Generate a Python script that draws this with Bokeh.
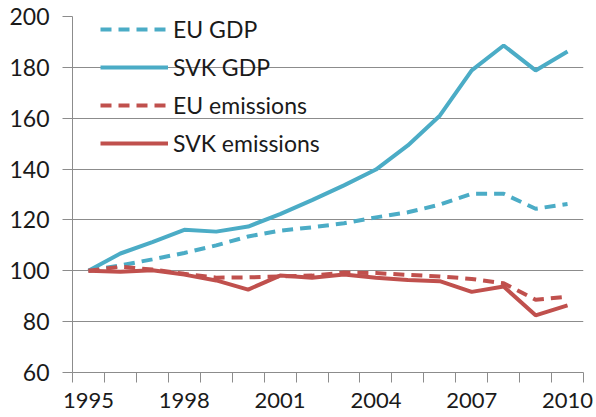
from bokeh.plotting import figure
from bokeh.models import FixedTicker, Range1d, Legend, LegendItem
from bokeh.embed import file_html
from bokeh.resources import INLINE

years = list(range(1995, 2011))
eu_gdp = [100, 102.1, 104.5, 107.0, 110.0, 113.5, 115.8, 117.1, 118.7, 121.0, 123.0, 126.0, 130.3, 130.3, 124.4, 126.3]
svk_gdp = [100, 106.8, 111.3, 116.1, 115.4, 117.4, 122.3, 127.8, 133.6, 139.8, 149.3, 161.0, 178.8, 188.6, 178.8, 186.2]
eu_em = [100, 101.6, 100.5, 98.8, 97.3, 97.4, 97.8, 98.1, 99.3, 99.1, 98.4, 97.8, 96.8, 95.1, 88.6, 89.8]
svk_em = [100, 99.6, 100.2, 98.5, 96.2, 92.6, 98.1, 97.3, 98.5, 97.3, 96.4, 95.9, 91.7, 93.8, 82.5, 86.4]

y_ticks = [60, 80, 100, 120, 140, 160, 180, 200]
x_label_years = [1995, 1998, 2001, 2004, 2007, 2010]
x_bounds = [y - 0.5 for y in years] + [years[-1] + 0.5]

BLUE = "#4BACC6"
RED = "#C0504D"
GRID = "#8C8C8C"
TXT = "#1A1A1A"
FONT = "Lato"

p = figure(width=596, height=417, output_backend="svg", toolbar_location=None,
           x_range=Range1d(x_bounds[0], x_bounds[-1]), y_range=Range1d(60, 200),
           min_border_left=72, min_border_right=13, min_border_top=16, min_border_bottom=45)
p.outline_line_color = None
p.background_fill_color = "white"
p.border_fill_color = "white"

r1 = p.line(years, eu_gdp, line_color=BLUE, line_width=4, line_dash="11 7")
r2 = p.line(years, svk_gdp, line_color=BLUE, line_width=4)
r3 = p.line(years, eu_em, line_color=RED, line_width=4, line_dash="11 7")
r4 = p.line(years, svk_em, line_color=RED, line_width=4)

# axes
p.xgrid.grid_line_color = None
p.ygrid.grid_line_color = GRID
p.ygrid.grid_line_width = 1
p.yaxis.ticker = FixedTicker(ticks=y_ticks)
p.xaxis.ticker = FixedTicker(ticks=x_label_years, minor_ticks=x_bounds)
for ax in (p.xaxis[0], p.yaxis[0]):
    ax.axis_line_color = GRID
    ax.major_tick_line_color = GRID
    ax.minor_tick_line_color = GRID
    ax.major_label_text_font = FONT
    ax.major_label_text_color = TXT
    ax.major_tick_in = 0
    ax.minor_tick_in = 0
p.yaxis.major_label_text_font_size = "23px"
p.xaxis.major_label_text_font_size = "22px"
p.yaxis.major_tick_out = 10
p.yaxis.minor_tick_out = 0
p.yaxis.major_label_standoff = 13
p.xaxis.major_tick_out = 0
p.xaxis.minor_tick_out = 10
p.xaxis.major_label_standoff = 10

legend = Legend(items=[
    LegendItem(label="EU GDP", renderers=[r1]),
    LegendItem(label="SVK GDP", renderers=[r2]),
    LegendItem(label="EU emissions", renderers=[r3]),
    LegendItem(label="SVK emissions", renderers=[r4]),
], location=(28, 215))
legend.padding = 0
legend.margin = 0
legend.spacing = 10
legend.glyph_width = 68
legend.glyph_height = 20
legend.label_height = 20
legend.label_standoff = 5
legend.label_text_font = FONT
legend.label_text_font_size = "23px"
legend.label_text_color = TXT
legend.border_line_color = None
legend.background_fill_alpha = 0
p.add_layout(legend)

open("out.html", "w").write(file_html(p, INLINE))
